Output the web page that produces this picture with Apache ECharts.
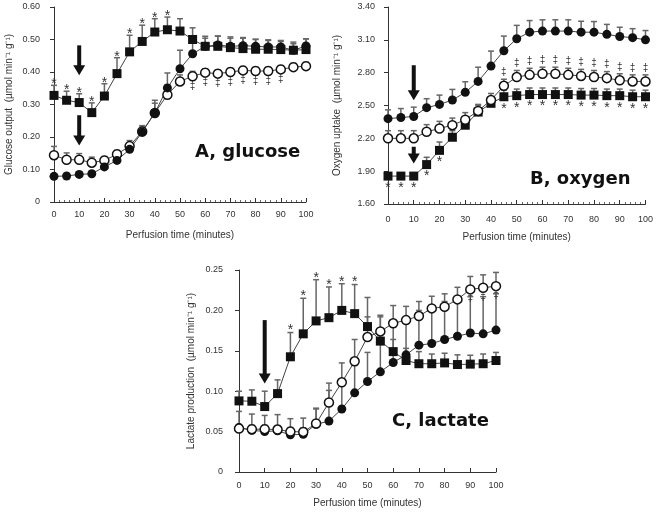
<!DOCTYPE html>
<html><head><meta charset="utf-8">
<script src="https://cdn.jsdelivr.net/npm/echarts@6/dist/echarts.min.js"></script>
<style>html,body{margin:0;padding:0;background:#fff}#c{width:656px;height:514px}</style>
</head><body><div id="c"></div>
<script>
// ---------- data ----------
const times = [0,5,10,15,20,25,30,35,40,45,50,55,60,65,70,75,80,85,90,95,100];
const xTicks = [0,10,20,30,40,50,60,70,80,90,100];

// Panel A, glucose output
const A_square = [0.328,0.313,0.306,0.275,0.326,0.395,0.462,0.494,0.523,0.530,0.526,0.500,0.479,0.479,0.475,0.472,0.470,0.470,0.469,0.467,0.469];
const A_squareErr = [0.031,0.028,0.027,0.030,0.038,0.049,0.051,0.050,0.041,0.039,0.038,0.036,0.031,0.031,0.033,0.032,0.030,0.027,0.025,0.025,0.033];
const A_filled = [0.079,0.080,0.085,0.087,0.108,0.128,0.162,0.215,0.274,0.351,0.410,0.456,0.479,0.483,0.479,0.481,0.479,0.477,0.477,0.467,0.480];
const A_filledErr = [0.004,0.004,0.004,0.004,0.006,0.008,0.012,0.020,0.030,0.046,0.057,0.041,0.025,0.028,0.025,0.025,0.022,0.022,0.020,0.020,0.022];
const A_open = [0.144,0.130,0.130,0.121,0.128,0.147,0.172,0.217,0.274,0.330,0.371,0.387,0.398,0.395,0.400,0.405,0.403,0.403,0.408,0.415,0.418];
const A_openErr = [0.027,0.021,0.019,0.017,0.012,0.012,0.017,0.014,0.039,0.030,0.020,0.015,0.012,0.012,0.012,0.012,0.012,0.012,0.012,0.012,0.012];
const A_stars = [0,1,2,3,4,5,6,7,8,9];          // above squares
const A_dagger = [11,12,13,14,15,16,17,18];      // below open circles
const A_yTicks = [0,0.1,0.2,0.3,0.4,0.5,0.6];
const A_arrows = [[10,0.482,0.390],[10,0.267,0.174]];

// Panel B, oxygen uptake
const B_filled = [2.38,2.39,2.40,2.48,2.51,2.55,2.62,2.72,2.86,3.00,3.11,3.17,3.18,3.18,3.18,3.17,3.17,3.15,3.13,3.12,3.10];
const B_filledErr = [0.080,0.082,0.085,0.082,0.085,0.097,0.097,0.130,0.137,0.134,0.122,0.106,0.103,0.103,0.103,0.100,0.097,0.091,0.085,0.082,0.085];
const B_open = [2.20,2.20,2.20,2.26,2.29,2.32,2.37,2.45,2.55,2.68,2.76,2.78,2.79,2.79,2.78,2.77,2.76,2.75,2.73,2.72,2.72];
const B_openErr = [0.070,0.070,0.070,0.065,0.065,0.065,0.065,0.060,0.060,0.060,0.060,0.060,0.060,0.060,0.060,0.060,0.060,0.060,0.060,0.060,0.060];
const B_square = [1.855,1.855,1.855,1.96,2.09,2.21,2.32,2.44,2.52,2.58,2.59,2.60,2.60,2.60,2.60,2.595,2.595,2.59,2.59,2.58,2.58];
const B_squareErr = [0.030,0.030,0.030,0.067,0.076,0.060,0.060,0.060,0.060,0.060,0.060,0.060,0.060,0.060,0.060,0.060,0.060,0.060,0.060,0.060,0.060];
const B_stars = [0,1,2,3,4,9,10,11,12,13,14,15,16,17,18,19,20]; // below squares
const B_dagger = [9,10,11,12,13,14,15,16,17,18,19,20];         // above open circles
const B_yTicks = [1.6,1.9,2.2,2.5,2.8,3.1,3.4];
const B_arrows = [[10,2.868,2.549],[10,2.123,1.970]];

// Panel C, lactate production
const C_square = [0.088,0.0876,0.081,0.097,0.1426,0.171,0.187,0.191,0.200,0.196,0.180,0.162,0.149,0.138,0.134,0.134,0.135,0.133,0.1335,0.134,0.138];
const C_squareErr = [0.012,0.014,0.019,0.017,0.030,0.044,0.051,0.038,0.033,0.036,0.036,0.030,0.015,0.015,0.015,0.012,0.012,0.012,0.011,0.012,0.010];
const C_open = [0.0537,0.053,0.053,0.0525,0.050,0.0496,0.060,0.086,0.111,0.137,0.167,0.174,0.184,0.188,0.193,0.2025,0.2045,0.2136,0.226,0.228,0.230];
const C_openErr = [0.005,0.005,0.005,0.005,0.005,0.005,0.019,0.024,0.024,0.027,0.025,0.020,0.022,0.017,0.018,0.015,0.016,0.015,0.016,0.016,0.017];
const C_filled = [0.055,0.0517,0.050,0.051,0.046,0.0467,0.059,0.063,0.078,0.098,0.112,0.124,0.1355,0.145,0.157,0.159,0.164,0.168,0.172,0.171,0.1756];
const C_filledErr = [0.020,0.020,0.020,0.020,0.020,0.020,0.019,0.038,0.035,0.034,0.036,0.045,0.044,0.045,0.043,0.047,0.047,0.047,0.045,0.046,0.045];
const C_stars = [4,5,6,7,8,9];    // above squares
const C_dagger = [18,19,20];      // below open circles
const C_yTicks = [0,0.05,0.10,0.15,0.20,0.25];
const C_arrows = [[10,0.188,0.1095]];

const yNameA = 'Glucose output  (\u00b5mol min\u207b\u00b9 g\u207b\u00b9)';
const yNameB = 'Oxygen uptake  (\u00b5mol min\u207b\u00b9 g\u207b\u00b9)';
const yNameC = 'Lactate production  (\u00b5mol min\u207b\u00b9 g\u207b\u00b9)';
const xName = 'Perfusion time (minutes)';

// ---------- styling helpers ----------
const TXT = '#333';
const AX = '#333';
const FONT = 'Liberation Sans, Arial, sans-serif';

function pairs(y){ return times.map((t,i)=>[t,y[i]]); }
function triples(y,e){ return times.map((t,i)=>[t,y[i],e[i]]); }

function errRender(params, api){
  const x = api.value(0), y = api.value(1), e = api.value(2);
  const p0 = api.coord([x,y]), p1 = api.coord([x,y+e]);
  return {type:'group', children:[
    {type:'line', shape:{x1:p0[0],y1:p0[1],x2:p1[0],y2:p1[1]}, style:{stroke:'#666',lineWidth:1.5}},
    {type:'line', shape:{x1:p1[0]-3,y1:p1[1],x2:p1[0]+3,y2:p1[1]}, style:{stroke:'#666',lineWidth:1.5}}
  ]};
}
function annotRender(sym, dy, size){
  return function(params, api){
    const p = api.coord([api.value(0), api.value(1)]);
    return {type:'text', x:p[0], y:p[1]+dy, style:{text:sym, fill:'#333', font:size+'px '+FONT, align:'center', verticalAlign:'middle'}};
  };
}
function arrowRender(params, api){
  const x = api.value(0);
  const pt = api.coord([x, api.value(1)]), pb = api.coord([x, api.value(2)]);
  const sw = 2, hw = 6, hh = 10;
  const cx = pt[0], yTop = pt[1], yTip = pb[1];
  return {type:'group', children:[
    {type:'rect', shape:{x:cx-sw, y:yTop, width:2*sw, height:Math.max(1, yTip-hh-yTop+1)}, style:{fill:'#111'}},
    {type:'polygon', shape:{points:[[cx-hw,yTip-hh],[cx+hw,yTip-hh],[cx,yTip]]}, style:{fill:'#111'}}
  ]};
}

const grids = [], xAxes = [], yAxes = [], series = [];

function addPanel(i, g, yCfg, xCfg, sets, stars, arrows){
  grids.push(Object.assign({containLabel:false}, g));
  xAxes.push({
    type:'value', gridIndex:i, min:0, max:100, interval:10,
    name:xName, nameLocation:'middle', nameGap:xCfg.nameGap,
    nameTextStyle:{color:TXT, fontFamily:FONT, fontSize:10},
    axisLine:{show:true, lineStyle:{color:AX, width:1}},
    axisTick:{show:true, inside:true, length:4, lineStyle:{color:AX}},
    minorTick:{show:xCfg.minor, splitNumber:5, length:2, lineStyle:{color:'#666'}},
    axisLabel:{color:TXT, fontFamily:FONT, fontSize:9, margin:xCfg.margin, customValues:xTicks},
    splitLine:{show:false}
  });
  yAxes.push({
    type:'value', gridIndex:i, min:yCfg.ticks[0], max:yCfg.ticks[yCfg.ticks.length-1],
    offset:yCfg.offset,
    name:yCfg.name, nameLocation:'middle', nameGap:yCfg.nameGap,
    nameTextStyle:{color:TXT, fontFamily:FONT, fontSize:10},
    axisLine:{show:true, lineStyle:{color:AX, width:1}},
    axisTick:{show:true, inside:false, length:4, lineStyle:{color:AX}, customValues:yCfg.ticks},
    axisLabel:{color:TXT, fontFamily:FONT, fontSize:9, margin:10, customValues:yCfg.ticks,
      formatter:v => (Math.abs(v)<1e-9 ? '0' : v.toFixed(2))},
    splitLine:{show:false}
  });
  sets.forEach(s => {
    series.push({type:'custom', xAxisIndex:i, yAxisIndex:i, renderItem:errRender,
      data:triples(s.y, s.e), encode:{x:0,y:1}, z:1, silent:true});
  });
  sets.forEach(s => {
    const open = s.kind==='open';
    series.push({type:'line', xAxisIndex:i, yAxisIndex:i, data:pairs(s.y), z:3,
      symbol: s.kind==='square' ? 'rect' : 'circle', symbolSize:9,
      showSymbol:true, showAllSymbol:true,
      lineStyle:{color:'#444', width:1},
      itemStyle: open ? {color:'#fff', borderColor:'#111', borderWidth:1.5} : {color:'#111', borderColor:'#111', borderWidth:0}
    });
  });
  stars.forEach(st => {
    series.push({type:'custom', xAxisIndex:i, yAxisIndex:i, renderItem:annotRender(st.sym, st.dy, st.size),
      data: st.idx.map(k => [times[k], st.y[k] + (st.e ? st.e[k] : 0)]), encode:{x:0,y:1}, z:5, silent:true});
  });
  series.push({type:'custom', xAxisIndex:i, yAxisIndex:i, renderItem:arrowRender,
    data: arrows.map(a => a.slice()), dimensions:['x','top','tip'], encode:{x:0,y:[1,2]}, z:6, silent:true, clip:false});
}

addPanel(0, {left:54, top:7, width:252, height:195},
  {ticks:A_yTicks, offset:4, name:yNameA, nameGap:36},
  {nameGap:28, margin:8, minor:true},
  [{kind:'square', y:A_square, e:A_squareErr},{kind:'open', y:A_open, e:A_openErr},{kind:'filled', y:A_filled, e:A_filledErr}],
  [{sym:'*', dy:-1, size:14, idx:A_stars, y:A_square, e:A_squareErr},
   {sym:'\u2021', dy:10, size:10, idx:A_dagger, y:A_open}],
  A_arrows);

addPanel(1, {left:388, top:7, width:258, height:197},
  {ticks:B_yTicks, offset:3, name:yNameB, nameGap:43},
  {nameGap:28, margin:11, minor:true},
  [{kind:'square', y:B_square, e:B_squareErr},{kind:'open', y:B_open, e:B_openErr},{kind:'filled', y:B_filled, e:B_filledErr}],
  [{sym:'*', dy:12, size:14, idx:B_stars, y:B_square},
   {sym:'\u2021', dy:-7, size:10, idx:B_dagger, y:B_open, e:B_openErr}],
  B_arrows);

addPanel(2, {left:239, top:270, width:257, height:202},
  {ticks:C_yTicks, offset:6, name:yNameC, nameGap:37},
  {nameGap:26, margin:9, minor:false},
  [{kind:'filled', y:C_filled, e:C_filledErr},{kind:'square', y:C_square, e:C_squareErr},{kind:'open', y:C_open, e:C_openErr}],
  [{sym:'*', dy:-2, size:14, idx:C_stars, y:C_square, e:C_squareErr},
   {sym:'\u2021', dy:9, size:10, idx:C_dagger, y:C_open}],
  C_arrows);

const labelStyle = {fontFamily:'DejaVu Sans, Verdana, sans-serif', fontWeight:'bold', fontSize:18, color:'#111'};
const chart = echarts.init(document.getElementById('c'), null, {renderer:'canvas'});
chart.setOption({
  animation:false,
  backgroundColor:'#fff',
  title:[
    {text:'A, glucose', left:195, top:143, padding:0, textStyle:labelStyle},
    {text:'B, oxygen', left:530, top:170, padding:0, textStyle:labelStyle},
    {text:'C, lactate', left:392, top:412, padding:0, textStyle:labelStyle}
  ],
  grid:grids, xAxis:xAxes, yAxis:yAxes, series:series
});
</script></body></html>
